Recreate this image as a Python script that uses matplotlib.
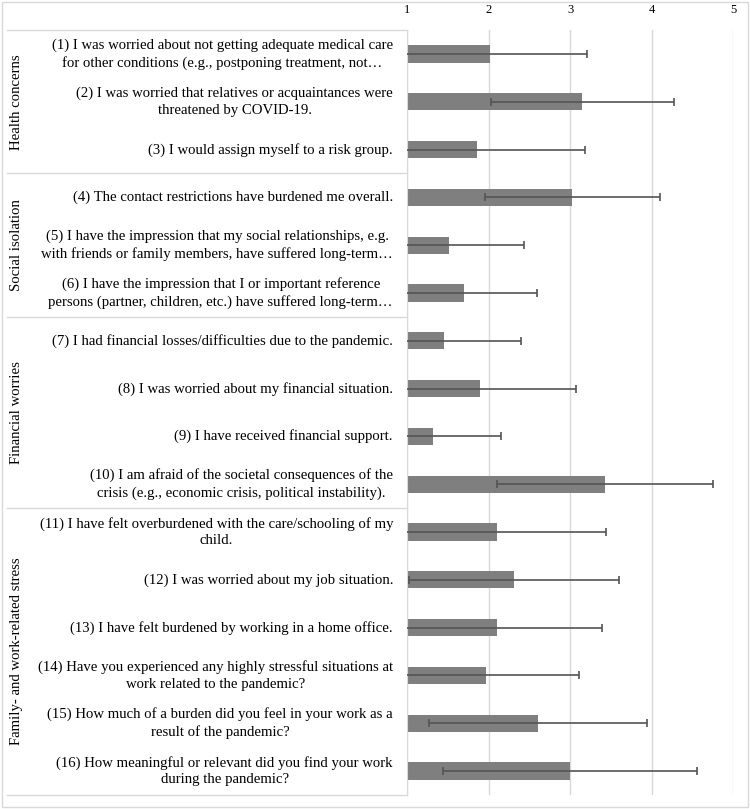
import matplotlib.pyplot as plt
from matplotlib.patches import Rectangle

plt.rcParams['font.family'] = ['Liberation Serif', 'DejaVu Serif']

items = [
    "(1) I was worried about not getting adequate medical care\nfor other conditions (e.g., postponing treatment, not…",
    "(2) I was worried that relatives or acquaintances were\nthreatened by COVID-19.",
    "(3) I would assign myself to a risk group.",
    "(4) The contact restrictions have burdened me overall.",
    "(5) I have the impression that my social relationships, e.g.\nwith friends or family members, have suffered long-term…",
    "(6) I have the impression that I or important reference\npersons (partner, children, etc.) have suffered long-term…",
    "(7) I had financial losses/difficulties due to the pandemic.",
    "(8) I was worried about my financial situation.",
    "(9) I have received financial support.",
    "(10) I am afraid of the societal consequences of the\ncrisis (e.g., economic crisis, political instability).",
    "(11) I have felt overburdened with the care/schooling of my\nchild.",
    "(12) I was worried about my job situation.",
    "(13) I have felt burdened by working in a home office.",
    "(14) Have you experienced any highly stressful situations at\nwork related to the pandemic?",
    "(15) How much of a burden did you feel in your work as a\nresult of the pandemic?",
    "(16) How meaningful or relevant did you find your work\nduring the pandemic?",
]
means = [2.02, 3.15, 1.86, 3.03, 1.51, 1.70, 1.45, 1.90, 1.32, 3.43, 2.10, 2.31, 2.10, 1.97, 2.61, 3.00]
sds = [1.19, 1.12, 1.32, 1.07, 0.92, 0.89, 0.95, 1.17, 0.83, 1.32, 1.34, 1.29, 1.29, 1.14, 1.34, 1.56]

groups = ["Health concerns", "Social isolation", "Financial worries", "Family- and work-related stress"]
group_sizes = [3, 3, 4, 6]

fig = plt.figure(figsize=(7.5, 8.09), dpi=100)
ax = fig.add_axes([407 / 750, 1 - 795 / 809, 326 / 750, 765 / 809])

y = list(range(len(items)))
ax.barh(y, [m - 1 for m in means], left=1, height=0.36, color='#7f7f7f', zorder=2)
ax.errorbar(means, y, xerr=sds, fmt='none', ecolor='#545454', elinewidth=1.2,
            capsize=3, capthick=1.2, zorder=3)

ax.set_xlim(1, 5)
ax.set_ylim(len(items) - 0.5, -0.5)
ax.set_xticks([1, 2, 3, 4, 5])
ax.xaxis.tick_top()
ax.tick_params(axis='x', length=0, labelsize=9, pad=10)
ax.set_yticks([])
ax.grid(axis='x', color='#d9d9d9', linewidth=1, zorder=0)
for s in ['top', 'right', 'bottom']:
    ax.spines[s].set_visible(False)
ax.spines['left'].set_color('#d9d9d9')

tr = ax.get_yaxis_transform()
for i, lab in enumerate(items):
    ax.text(-14 / 326, i, lab, transform=tr, ha='right', va='center',
            multialignment='center', fontsize=10.6, linespacing=1.38, clip_on=False)

x0 = (7 - 407) / 326
start = 0
bounds = [-0.5]
for g, n in zip(groups, group_sizes):
    ax.text((17 - 407) / 326, start + (n - 1) / 2, g, transform=tr, rotation=90,
            ha='center', va='center', fontsize=10.6, clip_on=False)
    start += n
    bounds.append(start - 0.5)
for b in bounds:
    ax.plot([x0, 0], [b, b], transform=tr, color='#d9d9d9', linewidth=1, clip_on=False)

fig.patches.append(Rectangle((0.002, 0.002), 0.995, 0.995, transform=fig.transFigure,
                             fill=False, edgecolor='#d9d9d9', linewidth=1))

fig.savefig('out.png', dpi=100, facecolor='white')
